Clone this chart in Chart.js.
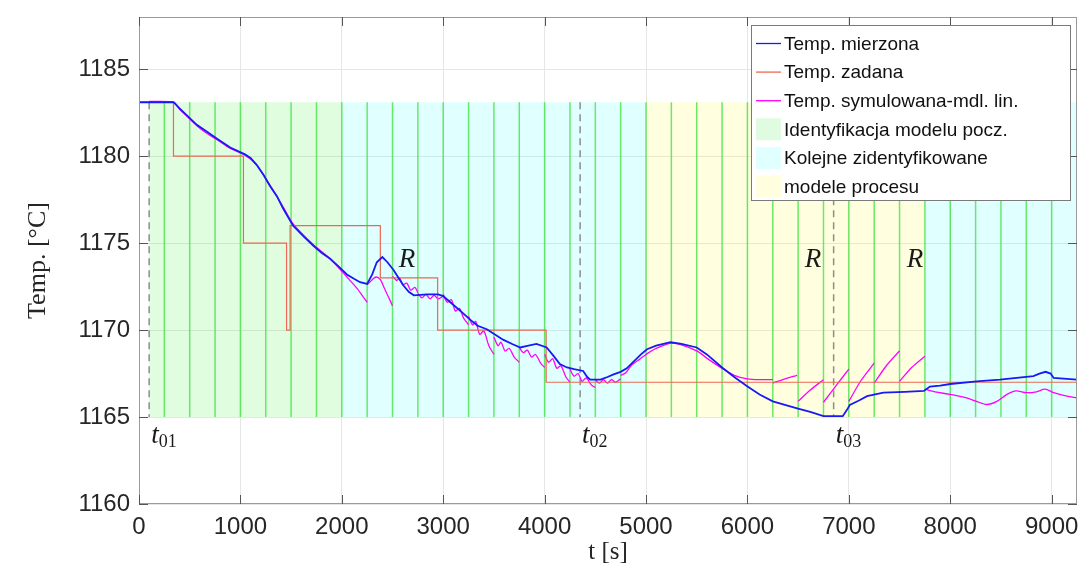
<!DOCTYPE html>
<html>
<head>
<meta charset="utf-8">
<script src="https://cdn.jsdelivr.net/npm/chart.js@4/dist/chart.umd.min.js"></script>
<style>
  body { margin: 0; background: #fff; }
  #wrap { width: 1083px; height: 576px; }
</style>
</head>
<body>
<div id="wrap"><canvas id="tempChart"></canvas></div>
<script>
// measured furnace temperature [t s, T degC]
const measured = [
  [0,1183.1],[340,1183.1],[400,1182.75],[480,1182.3],[570,1181.8],[660,1181.45],[770,1181.0],
  [900,1180.5],[1045,1180.1],[1100,1179.9],[1160,1179.5],[1230,1178.9],[1290,1178.3],[1360,1177.7],
  [1420,1177.0],[1470,1176.5],[1520,1176.0],[1620,1175.4],[1720,1174.85],[1800,1174.45],[1885,1174.1],
  [1970,1173.65],[2050,1173.2],[2120,1172.95],[2180,1172.75],[2250,1172.65],[2300,1173.2],[2345,1173.9],
  [2400,1174.2],[2450,1173.9],[2510,1173.45],[2560,1173.0],[2610,1172.55],[2660,1172.2],[2710,1172.0],
  [2840,1172.05],[2950,1172.05],[3000,1171.95],[3070,1171.6],[3130,1171.3],[3200,1170.95],[3265,1170.6],
  [3340,1170.25],[3430,1170.05],[3510,1169.75],[3590,1169.45],[3680,1169.2],[3760,1169.0],[3840,1169.1],
  [3920,1169.2],[4020,1169.0],[4090,1168.5],[4150,1168.05],[4220,1167.85],[4290,1167.75],[4380,1167.65],
  [4420,1167.3],[4450,1167.15],[4550,1167.15],[4620,1167.3],[4680,1167.45],[4750,1167.6],[4810,1167.8],
  [4880,1168.2],[4950,1168.6],[5010,1168.9],[5100,1169.1],[5240,1169.3],[5350,1169.2],[5500,1169.0],
  [5600,1168.6],[5750,1167.85],[5870,1167.3],[5990,1166.8],[6120,1166.3],[6250,1165.9],[6370,1165.7],
  [6490,1165.5],[6620,1165.3],[6750,1165.05],[6940,1165.05],[6980,1165.4],[7010,1165.7],[7100,1165.95],
  [7180,1166.2],[7340,1166.4],[7550,1166.45],[7740,1166.5],[7800,1166.75],[7900,1166.8],[8000,1166.9],
  [8260,1167.05],[8490,1167.15],[8560,1167.2],[8820,1167.35],[8880,1167.5],[8940,1167.6],[8990,1167.5],
  [9020,1167.25],[9250,1167.15]
];

// setpoint, each point is the time the new value starts
const setpoint = [
  [0,1183.1],[340,1180],[1030,1175],[1455,1170],[1490,1176],[2380,1173],[2945,1170],[4015,1167],[9250,1167]
];

// linear model output, [t, null] splits the separate model runs
const simulated = [
  [100,1183.15],[340,1183.1],[400,1182.7],[480,1182.25],[570,1181.75],[660,1181.35],[770,1180.95],
  [900,1180.45],[1045,1180.05],[1160,1179.5],[1290,1178.35],[1420,1177.1],[1520,1176.1],[1720,1174.9],
  [1885,1174.1],[2050,1173.05],[2150,1172.4],[2200,1172.0],[2250,1171.6],[2250,null],
  [2250,1172.6],[2300,1172.9],[2340,1173.05],[2380,1172.9],[2420,1172.4],[2460,1171.9],[2500,1171.4],[2500,null],
  [2500,1173.1],[2540,1172.85],[2570,1173.0],[2600,1172.6],[2640,1172.7],[2680,1172.3],[2720,1172.45],[2750,1172.15],[2750,null],
  [2750,1172.1],[2790,1171.85],[2830,1172.05],[2870,1171.8],[2910,1172.0],[2950,1171.8],[3000,1171.95],[3000,null],
  [3000,1172.05],[3040,1171.6],[3080,1171.75],[3120,1171.1],[3160,1171.25],[3200,1170.7],[3250,1170.3],[3250,null],
  [3250,1170.8],[3290,1170.3],[3320,1170.5],[3360,1169.75],[3400,1169.95],[3450,1169.1],[3500,1168.6],[3500,null],
  [3500,1169.6],[3540,1169.1],[3570,1169.3],[3610,1168.8],[3650,1168.95],[3700,1168.45],[3750,1168.15],[3750,null],
  [3750,1169.0],[3790,1168.7],[3830,1168.85],[3870,1168.45],[3910,1168.6],[3960,1168.1],[4000,1167.85],[4000,null],
  [4000,1168.6],[4040,1168.15],[4080,1168.35],[4120,1167.8],[4160,1167.95],[4210,1167.3],[4250,1167.0],[4250,null],
  [4250,1167.75],[4290,1167.35],[4330,1167.5],[4370,1167.05],[4410,1167.25],[4460,1166.85],[4500,1166.7],[4500,null],
  [4500,1167.15],[4540,1166.95],[4580,1167.15],[4620,1166.95],[4660,1167.15],[4700,1167.0],[4750,1167.2],[4750,null],
  [4750,1167.4],[4800,1167.55],[4860,1168.0],[4920,1168.25],[5000,1168.6],[5100,1168.95],[5250,1169.25],
  [5350,1169.15],[5500,1168.8],[5620,1168.3],[5750,1167.8],[5870,1167.4],[6000,1167.2],[6120,1167.15],[6250,1167.15],[6250,null],
  [6250,1166.95],[6370,1167.2],[6490,1167.4],[6490,null],
  [6500,1165.9],[6620,1166.55],[6750,1167.15],[6750,null],
  [6750,1165.85],[6880,1166.85],[7000,1167.75],[7000,null],
  [7000,1165.9],[7120,1167.1],[7250,1168.1],[7250,null],
  [7250,1166.95],[7370,1167.95],[7500,1168.8],[7500,null],
  [7500,1167.05],[7620,1167.85],[7750,1168.5],[7750,null],
  [7750,1166.6],[7850,1166.45],[8000,1166.3],[8160,1166.1],[8260,1165.9],[8360,1165.72],[8460,1165.9],
  [8560,1166.3],[8650,1166.5],[8750,1166.4],[8850,1166.45],[8935,1166.6],[9020,1166.4],[9150,1166.2],[9250,1166.1]
];

const xTickValues = [0, 1000, 2000, 3000, 4000, 5000, 6000, 7000, 8000, 9000];
const yTickValues = [1160, 1165, 1170, 1175, 1180, 1185];

// identification phases
const regionStart = [100, 2000, 5000, 7750];
const regionEnd = [2000, 5000, 7750, 9250];
const regionKind = [0, 1, 2, 1];
const bandLow = 1165;
const bandHigh = 1183.1;
const identTimes = [250, 500, 750, 1000, 1250, 1500, 1750, 2000, 2250, 2500, 2750, 3000, 3250, 3500,
  3750, 4000, 4250, 4500, 4750, 5000, 5250, 5500, 5750, 6000, 6250, 6500, 6750, 7000, 7250, 7500,
  7750, 8000, 8250, 8500, 8750, 9000];
const markerTimes = [100, 4350, 6850];
const markerSubs = ['01', '02', '03'];
const restartLabels = [[2643, 1173.63], [6647, 1173.63], [7653, 1173.63]];

const legendLabels = ['Temp. mierzona', 'Temp. zadana', 'Temp. symulowana-mdl. lin.',
  'Identyfikacja modelu pocz.', 'Kolejne zidentyfikowane', 'modele procesu'];

const blue = 'rgb(25,25,245)';
const red = 'rgb(236,104,84)';
const magenta = 'rgb(255,0,255)';
const kindFill = ['rgba(0,235,0,0.12)', 'rgba(0,255,255,0.12)', 'rgba(255,255,0,0.12)'];
const kindSwatch = ['rgb(224,252,224)', 'rgb(224,255,255)', 'rgb(255,255,224)'];

const toXY = arr => arr.map(p => ({ x: p[0], y: p[1] }));

const overlay = {
  id: 'overlay',
  beforeDatasetsDraw(chart) {
    const { ctx, scales: { x, y } } = chart;
    const yTop = y.getPixelForValue(bandHigh);
    const yBot = y.getPixelForValue(bandLow);
    ctx.save();
    regionStart.forEach((s, i) => {
      const x0 = x.getPixelForValue(s);
      const x1 = x.getPixelForValue(regionEnd[i]);
      ctx.fillStyle = kindFill[regionKind[i]];
      ctx.fillRect(x0, yTop, x1 - x0, yBot - yTop);
    });
    ctx.strokeStyle = 'rgba(70,228,70,0.8)';
    ctx.lineWidth = 1.5;
    identTimes.forEach(t => {
      const px = x.getPixelForValue(t);
      ctx.beginPath();
      ctx.moveTo(px, yTop);
      ctx.lineTo(px, yBot);
      ctx.stroke();
    });
    ctx.strokeStyle = '#8c8c8c';
    ctx.setLineDash([7, 5]);
    markerTimes.forEach(t => {
      const px = x.getPixelForValue(t);
      ctx.beginPath();
      ctx.moveTo(px, yTop);
      ctx.lineTo(px, yBot);
      ctx.stroke();
    });
    ctx.restore();
  },
  afterDatasetsDraw(chart) {
    const { ctx, scales: { x, y } } = chart;
    ctx.save();
    ctx.fillStyle = '#1a1a1a';
    ctx.textBaseline = 'alphabetic';
    const base = y.getPixelForValue(1165) + 26;
    markerTimes.forEach((t, i) => {
      const px = x.getPixelForValue(t) + 2;
      ctx.font = 'italic 27px "Liberation Serif", serif';
      ctx.fillText('t', px, base);
      const w = ctx.measureText('t').width;
      ctx.font = '18px "Liberation Serif", serif';
      ctx.fillText(markerSubs[i], px + w, base + 4);
    });
    ctx.font = 'italic 27px "Liberation Serif", serif';
    ctx.textAlign = 'center';
    restartLabels.forEach(([t, v]) => {
      ctx.fillText('R', x.getPixelForValue(t), y.getPixelForValue(v));
    });
    ctx.restore();
  },
  afterDraw(chart) {
    const { ctx, chartArea: a, scales: { x, y } } = chart;
    ctx.save();
    // axes box with inner ticks on all sides
    ctx.strokeStyle = '#9a9a9a';
    ctx.lineWidth = 1;
    ctx.strokeRect(a.left + 0.5, a.top + 0.5, a.right - a.left - 1, a.bottom - a.top - 1);
    ctx.strokeStyle = '#555';
    y.ticks.forEach(tk => {
      const py = Math.round(y.getPixelForValue(tk.value)) + 0.5;
      ctx.beginPath();
      ctx.moveTo(a.left, py); ctx.lineTo(a.left + 9, py);
      ctx.moveTo(a.right, py); ctx.lineTo(a.right - 9, py);
      ctx.stroke();
    });
    x.ticks.forEach(tk => {
      const px = Math.round(x.getPixelForValue(tk.value)) + 0.5;
      ctx.beginPath();
      ctx.moveTo(px, a.bottom); ctx.lineTo(px, a.bottom - 9);
      ctx.moveTo(px, a.top); ctx.lineTo(px, a.top + 9);
      ctx.stroke();
    });

    // legend box
    const lx = 751, ly = 25, lw = 319, lh = 175;
    ctx.fillStyle = '#fff';
    ctx.fillRect(lx, ly, lw, lh);
    ctx.strokeStyle = '#7a7a7a';
    ctx.strokeRect(lx + 0.5, ly + 0.5, lw, lh);
    const lineColors = [blue, red, magenta];
    ctx.font = '19px "Liberation Sans", Arial, sans-serif';
    ctx.textBaseline = 'middle';
    legendLabels.forEach((label, i) => {
      const cy = ly + 18.5 + i * 28.6;
      if (i < 3) {
        ctx.strokeStyle = lineColors[i];
        ctx.lineWidth = 1.3;
        ctx.beginPath();
        ctx.moveTo(756, cy); ctx.lineTo(781, cy);
        ctx.stroke();
      } else {
        ctx.fillStyle = kindSwatch[i - 3];
        ctx.fillRect(756, cy - 11, 25, 22);
      }
      ctx.fillStyle = '#111';
      ctx.fillText(label, 784, cy + 1);
    });
    ctx.restore();
  }
};

const tickFont = { family: '"Liberation Sans", Arial, sans-serif', size: 24 };

const ctx = document.getElementById('tempChart').getContext('2d');
const tempChart = new Chart(ctx, {
  type: 'line',
  data: {
    datasets: [
      {
        label: legendLabels[0],
        data: toXY(measured),
        borderColor: blue,
        borderWidth: 1.8,
        pointRadius: 0,
        tension: 0
      },
      {
        label: legendLabels[1],
        data: toXY(setpoint),
        borderColor: red,
        borderWidth: 1.2,
        pointRadius: 0,
        stepped: true
      },
      {
        label: legendLabels[2],
        data: toXY(simulated),
        borderColor: magenta,
        borderWidth: 1.3,
        pointRadius: 0,
        spanGaps: false,
        tension: 0.3
      }
    ]
  },
  options: {
    responsive: true,
    maintainAspectRatio: false,
    animation: false,
    layout: { padding: { left: 0, top: 17, right: 6, bottom: 0 } },
    plugins: {
      legend: { display: false },
      tooltip: { enabled: false }
    },
    scales: {
      x: {
        type: 'linear',
        min: 0,
        max: 9250,
        afterFit(scale) {
          scale.height = 72;
          scale.paddingLeft = 0;
          scale.paddingRight = 0;
        },
        afterBuildTicks(scale) { scale.ticks = xTickValues.map(v => ({ value: v })); },
        ticks: {
          maxRotation: 0,
          autoSkip: false,
          padding: 9,
          color: '#262626',
          font: tickFont,
          callback: v => String(v)
        },
        grid: { color: '#e6e6e6', drawTicks: false },
        border: { display: false },
        title: {
          display: true,
          text: 't [s]',
          color: '#262626',
          padding: { top: 0, bottom: 9 },
          font: { family: '"Liberation Serif", serif', size: 25 }
        }
      },
      y: {
        min: 1160,
        max: 1188,
        afterFit(scale) {
          scale.width = 139;
          scale.paddingTop = 0;
          scale.paddingBottom = 0;
        },
        afterBuildTicks(scale) { scale.ticks = yTickValues.map(v => ({ value: v })); },
        ticks: {
          padding: 9,
          color: '#262626',
          font: tickFont,
          callback: v => String(v)
        },
        grid: { color: '#e6e6e6', drawTicks: false },
        border: { display: false },
        title: {
          display: true,
          text: 'Temp. [°C]',
          color: '#262626',
          padding: { top: 23, bottom: 0 },
          font: { family: '"Liberation Serif", serif', size: 26 }
        }
      }
    }
  },
  plugins: [overlay]
});
</script>
</body>
</html>
